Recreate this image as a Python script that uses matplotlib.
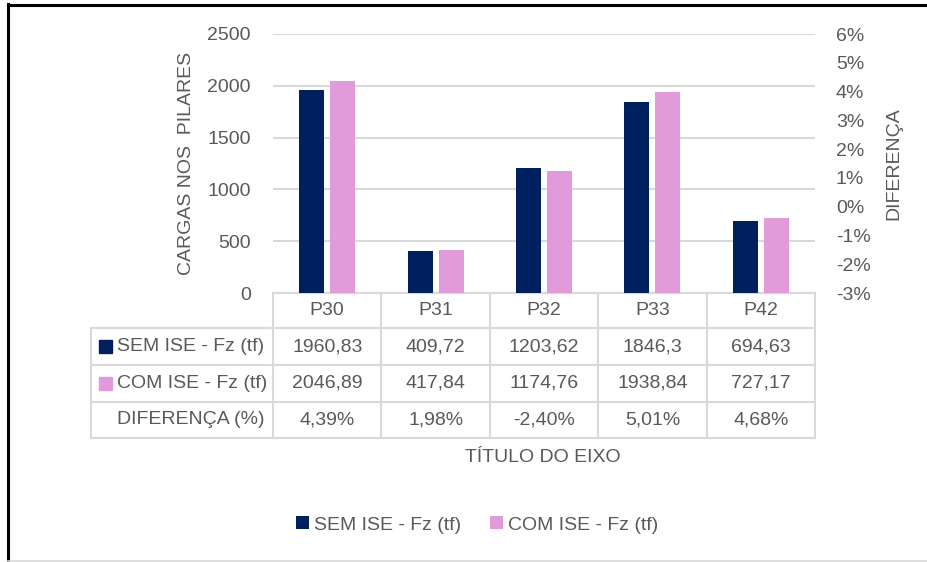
import matplotlib
matplotlib.use("Agg")
import matplotlib.pyplot as plt
import matplotlib.transforms as mtransforms
from matplotlib.patches import Rectangle
from matplotlib.lines import Line2D

plt.rcParams['font.family'] = ['Liberation Sans', 'DejaVu Sans']

categories = ["P30", "P31", "P32", "P33", "P42"]
sem_ise = [1960.83, 409.72, 1203.62, 1846.3, 694.63]
com_ise = [2046.89, 417.84, 1174.76, 1938.84, 727.17]
diferenca = [0.0439, 0.0198, -0.0240, 0.0501, 0.0468]
sem_labels = ["1960,83", "409,72", "1203,62", "1846,3", "694,63"]
com_labels = ["2046,89", "417,84", "1174,76", "1938,84", "727,17"]
dif_labels = ["4,39%", "1,98%", "-2,40%", "5,01%", "4,68%"]
series_names = ["SEM ISE - Fz (tf)", "COM ISE - Fz (tf)", "DIFERENÇA (%)"]
left_ticks = [0, 500, 1000, 1500, 2000, 2500]
right_ticks = [-0.03, -0.02, -0.01, 0.0, 0.01, 0.02, 0.03, 0.04, 0.05, 0.06]

NAVY = "#001F5F"
PINK = "#E19ADA"
TXT = "#595959"
GRID = "#D9D9D9"
FS = 14

W, H = 928, 562
fig = plt.figure(figsize=(W / 100, H / 100), dpi=100)

# chart border (top and left black, bottom light gray)
fig.add_artist(Line2D([8 / W, 8 / W], [0, 1 - 4 / H], color="black", lw=2.2, transform=fig.transFigure))
fig.add_artist(Line2D([8 / W, 1], [1 - 5 / H, 1 - 5 / H], color="black", lw=2.2, transform=fig.transFigure))
fig.add_artist(Line2D([8 / W, 1], [1.5 / H, 1.5 / H], color=GRID, lw=1.2, transform=fig.transFigure))

x0, x1, ytop, ybot = 273, 815, 34, 293
ax = fig.add_axes([x0 / W, 1 - ybot / H, (x1 - x0) / W, (ybot - ytop) / H])
x = list(range(len(categories)))
bw = 0.23
off = 0.143
ax.bar([i - off for i in x], sem_ise, width=bw, color=NAVY, label=series_names[0], zorder=3)
ax.bar([i + off for i in x], com_ise, width=bw, color=PINK, label=series_names[1], zorder=3)
ax.set_xlim(-0.5, len(categories) - 0.5)
ax.set_ylim(0, 2500)
ax.set_yticks(left_ticks)
ax.set_yticklabels([str(t) for t in left_ticks])
ax.yaxis.grid(True, color=GRID, lw=1.5, zorder=0)
ax.set_axisbelow(True)
ax.set_xticks([])
for s in ["top", "right", "left"]:
    ax.spines[s].set_visible(False)
ax.spines["bottom"].set_color(GRID)
ax.spines["bottom"].set_linewidth(1.5)
ax.tick_params(axis="y", length=0, pad=16, labelsize=FS, labelcolor=TXT)
ax.set_ylabel("CARGAS NOS  PILARES", fontsize=FS, color=TXT, labelpad=9)

ax2 = ax.twinx()
ax2.set_ylim(right_ticks[0], right_ticks[-1])
ax2.set_yticks(right_ticks)
ax2.set_yticklabels([f"{round(t * 100)}%" for t in right_ticks])
ax2.tick_params(axis="y", length=0, pad=15, labelsize=FS, labelcolor=TXT)
for s in ["top", "right", "left", "bottom"]:
    ax2.spines[s].set_visible(False)
ax2.set_ylabel("DIFERENÇA", fontsize=FS, color=TXT, labelpad=11)

# data table (x in category units, y in pixel rows converted to axes fraction)
trans = mtransforms.blended_transform_factory(ax.transData, ax.transAxes)
ph = ybot - ytop
def ya(py):
    return (ybot - py) / ph

row_edges = [293, 328, 365, 402, 438]
left_edge = -0.5 - (x0 - 91) / ((x1 - x0) / len(categories))
right_edge = len(categories) - 0.5
lkw = dict(color=GRID, lw=1.5, transform=trans, clip_on=False)
for k, py in enumerate(row_edges):
    xs = -0.5 if k == 0 else left_edge
    ax.add_line(Line2D([xs, right_edge], [ya(py), ya(py)], **lkw))
for b in range(len(categories) + 1):
    ax.add_line(Line2D([b - 0.5, b - 0.5], [ya(293), ya(438)], **lkw))
ax.add_line(Line2D([left_edge, left_edge], [ya(328), ya(438)], **lkw))

rows = [categories, sem_labels, com_labels, dif_labels]
for r, vals in enumerate(rows):
    yc = ya((row_edges[r] + row_edges[r + 1]) / 2)
    for i, v in enumerate(vals):
        ax.text(i, yc, v, transform=trans, ha="center", va="center", fontsize=FS, color=TXT, clip_on=False)

cat_w = (x1 - x0) / len(categories)
lab_x = left_edge + (117 - 91) / cat_w
key_x = left_edge + (99 - 91) / cat_w
for r, (name, col) in enumerate(zip(series_names, [NAVY, PINK, None])):
    yc_px = (row_edges[r + 1] + row_edges[r + 2]) / 2
    if col is not None:
        ax.add_patch(Rectangle((key_x, ya(yc_px + 6.5)), 13 / cat_w, 13 / ph, color=col,
                               transform=trans, clip_on=False))
    ax.text(lab_x, ya(yc_px), name, transform=trans, ha="left", va="center", fontsize=FS,
            color=TXT, clip_on=False)

fig.text(543 / W, 1 - 458 / H, "TÍTULO DO EIXO", ha="center", va="center", fontsize=FS, color=TXT)

h, l = ax.get_legend_handles_labels()
leg = fig.legend(h, l, loc="center", bbox_to_anchor=(477 / W, 1 - 525 / H), ncol=2, frameon=False,
                 fontsize=FS, handlelength=0.65, handleheight=0.65, handletextpad=0.25, columnspacing=1.5)
for t in leg.get_texts():
    t.set_color(TXT)

fig.savefig("out.png", dpi=100)
